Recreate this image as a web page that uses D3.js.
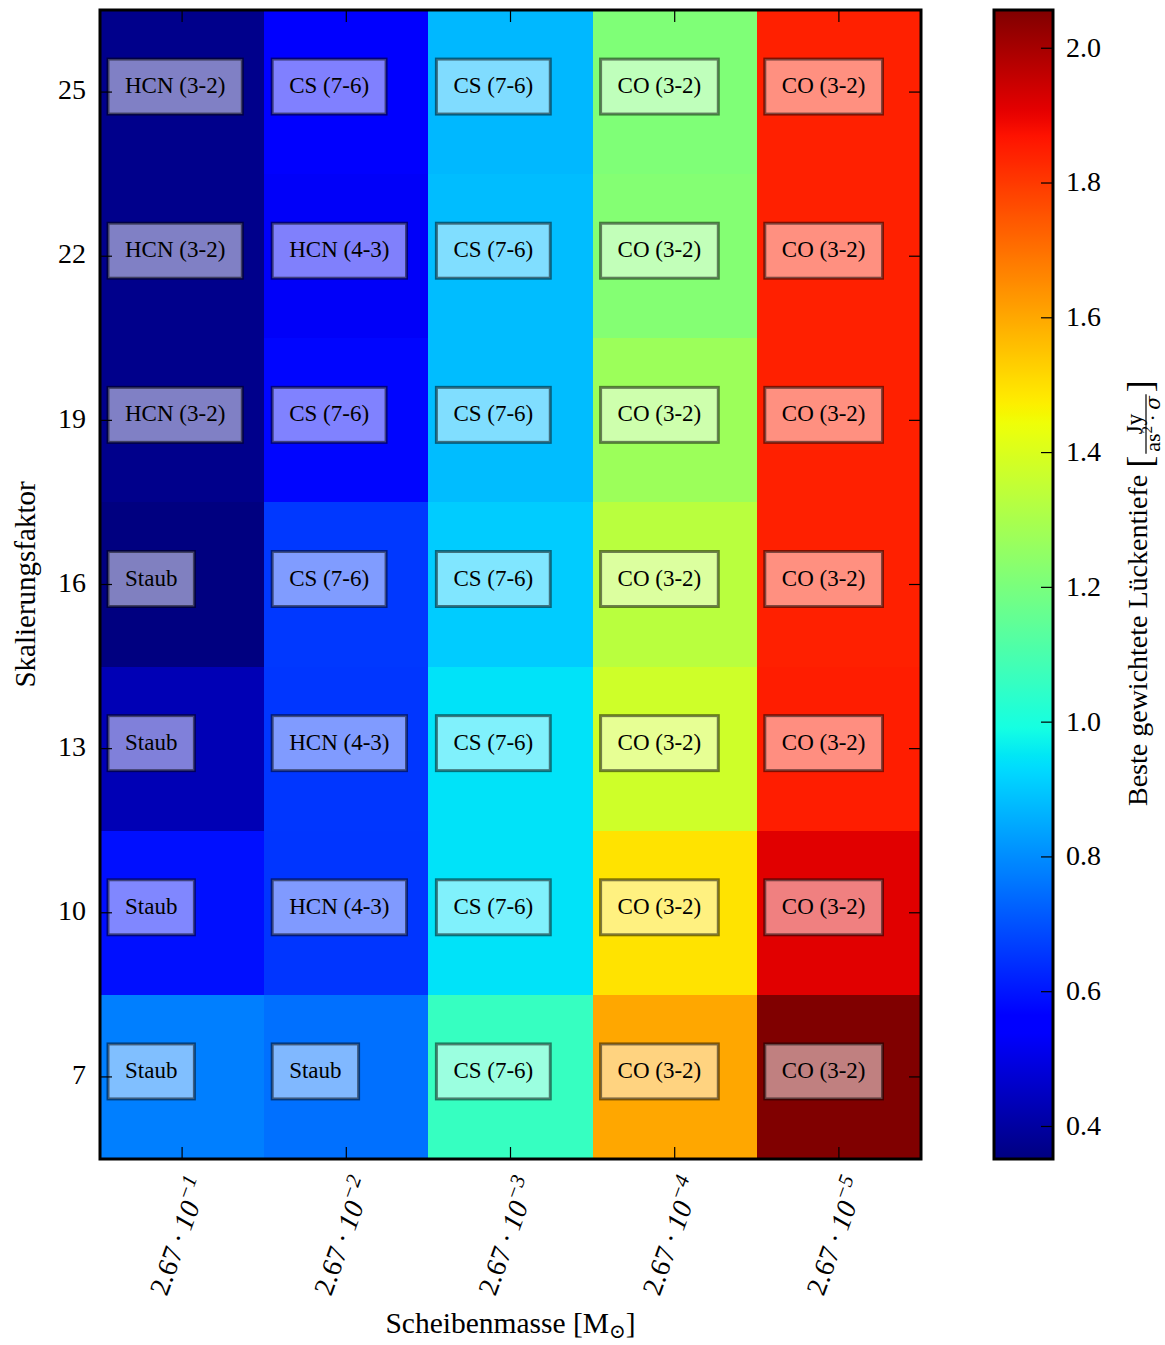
<!DOCTYPE html>
<html>
<head>
<meta charset="utf-8">
<script src="https://cdn.jsdelivr.net/npm/d3@7"></script>
<style>
  html, body { margin: 0; padding: 0; background: #fff; }
  svg { display: block; }
  text { font-family: "Liberation Serif", "DejaVu Serif", serif; fill: #000; }
</style>
</head>
<body>
<svg id="chart" width="1165" height="1345"></svg>
<script>
// ---------------- data ----------------
const scaleFactors = [25, 22, 19, 16, 13, 10, 7];
const massMantissa = "2.67";
const massExponents = [-1, -2, -3, -4, -5];
const massKeys = ["m1", "m2", "m3", "m4", "m5"];

// best weighted gap depth, one array per disc mass, ordered like scaleFactors
const depth_m1 = [0.368, 0.368, 0.368, 0.351, 0.43, 0.59, 0.777];
const depth_m2 = [0.539, 0.530, 0.573, 0.658, 0.655, 0.652, 0.752];
const depth_m3 = [0.871, 0.880, 0.880, 0.905, 0.944, 0.944, 1.059];
const depth_m4 = [1.212, 1.221, 1.272, 1.331, 1.374, 1.493, 1.601];
const depth_m5 = [1.845, 1.845, 1.845, 1.845, 1.851, 1.913, 2.056];

// best tracer per cell
const line_m1 = ["HCN (3-2)", "HCN (3-2)", "HCN (3-2)", "Staub", "Staub", "Staub", "Staub"];
const line_m2 = ["CS (7-6)", "HCN (4-3)", "CS (7-6)", "CS (7-6)", "HCN (4-3)", "HCN (4-3)", "Staub"];
const line_m3 = ["CS (7-6)", "CS (7-6)", "CS (7-6)", "CS (7-6)", "CS (7-6)", "CS (7-6)", "CS (7-6)"];
const line_m4 = ["CO (3-2)", "CO (3-2)", "CO (3-2)", "CO (3-2)", "CO (3-2)", "CO (3-2)", "CO (3-2)"];
const line_m5 = ["CO (3-2)", "CO (3-2)", "CO (3-2)", "CO (3-2)", "CO (3-2)", "CO (3-2)", "CO (3-2)"];

const colorbarTicks = [0.4, 0.6, 0.8, 1.0, 1.2, 1.4, 1.6, 1.8, 2.0];

// ---------------- build cell table ----------------
const depths = [depth_m1, depth_m2, depth_m3, depth_m4, depth_m5];
const lines = [line_m1, line_m2, line_m3, line_m4, line_m5];
const cells = [];
massKeys.forEach((k, ci) => {
  scaleFactors.forEach((s, ri) => {
    cells.push({ mass: k, scale: s, value: depths[ci][ri], label: lines[ci][ri] });
  });
});

// ---------------- jet colormap ----------------
const jr = d3.scaleLinear().domain([0, 0.35, 0.66, 0.89, 1]).range([0, 0, 1, 1, 0.5]).clamp(true);
const jg = d3.scaleLinear().domain([0, 0.125, 0.375, 0.64, 0.91, 1]).range([0, 0, 1, 1, 0, 0]).clamp(true);
const jb = d3.scaleLinear().domain([0, 0.11, 0.34, 0.65, 1]).range([0.5, 1, 1, 0, 0]).clamp(true);
function jet(t) {
  return d3.rgb(Math.round(jr(t) * 255), Math.round(jg(t) * 255), Math.round(jb(t) * 255)).toString();
}
const allVals = cells.map(d => d.value);
const vmin = d3.min(allVals), vmax = d3.max(allVals);
const norm = d3.scaleLinear().domain([vmin, vmax]).range([0, 1]).clamp(true);
const color = v => jet(norm(v));

// ---------------- layout ----------------
const svg = d3.select("#chart");
const P = { left: 100, right: 921, top: 10, bottom: 1159 };
const CB = { left: 994, right: 1053 };

const x = d3.scaleBand().domain(massKeys).range([P.left, P.right]).padding(0);
const y = d3.scaleBand().domain(scaleFactors).range([P.top, P.bottom]).padding(0);

// cells
svg.append("g").selectAll("rect").data(cells).join("rect")
  .attr("x", d => x(d.mass))
  .attr("y", d => y(d.scale))
  .attr("width", x.bandwidth() + 0.5)
  .attr("height", y.bandwidth() + 0.5)
  .attr("fill", d => color(d.value))
  .attr("shape-rendering", "crispEdges");

// labels with boxes
const lab = svg.append("g").selectAll("g").data(cells).join("g");
lab.each(function(d) {
  const g = d3.select(this);
  const tx = x(d.mass) + 25;
  const ty = y(d.scale) + y.bandwidth() / 2 + 1;
  const rect = g.append("rect");
  const t = g.append("text").attr("x", tx).attr("y", ty).attr("font-size", 23).text(d.label);
  const w = t.node().getComputedTextLength();
  rect.attr("x", tx - 17).attr("y", ty - 34).attr("width", w + 34).attr("height", 55)
    .attr("fill", "#fff").attr("fill-opacity", 0.5)
    .attr("stroke", "#000").attr("stroke-opacity", 0.5).attr("stroke-width", 3);
});

// ticks (inward) on all four sides
const tickLen = 12;
const axB = svg.append("g").attr("transform", `translate(0,${P.bottom})`)
  .call(d3.axisBottom(x).tickSize(-tickLen).tickFormat(""));
const axT = svg.append("g").attr("transform", `translate(0,${P.top})`)
  .call(d3.axisTop(x).tickSize(-tickLen).tickFormat(""));
const axL = svg.append("g").attr("transform", `translate(${P.left},0)`)
  .call(d3.axisLeft(y).tickSize(-tickLen).tickPadding(14));
const axR = svg.append("g").attr("transform", `translate(${P.right},0)`)
  .call(d3.axisRight(y).tickSize(-tickLen).tickFormat(""));
[axB, axT, axL, axR].forEach(a => {
  a.select(".domain").remove();
  a.selectAll(".tick line").attr("stroke", "#000").attr("stroke-width", 1.2);
});
axL.selectAll(".tick text")
  .attr("font-family", '"Liberation Serif", serif')
  .attr("font-size", 28).attr("fill", "#000").attr("dy", "0.26em");

// rotated x tick labels (2.67·10^-n)
const fsX = 28;
massKeys.forEach((k, i) => {
  const t = svg.append("text").attr("font-size", fsX);
  t.append("tspan").text(massMantissa);
  t.append("tspan").text("\u2009\u00B7\u2009");
  t.append("tspan").attr("font-style", "italic").text("10");
  t.append("tspan").attr("font-style", "italic").attr("font-size", 21).attr("dy", -12)
    .text("\u2212" + Math.abs(massExponents[i]));
  const L = t.node().getComputedTextLength();
  const A = 0.95 * fsX, D = 0.22 * fsX;
  const c = 0.342, s = 0.940;
  const cx = x(k) + x.bandwidth() / 2 - 4;
  const ax = cx - (c * L + s * (D - A)) / 2;
  const ay = P.bottom + 14 + s * L + c * A;
  t.attr("transform", `translate(${ax},${ay}) rotate(-70)`);
});

// frame
svg.append("rect").attr("x", P.left).attr("y", P.top)
  .attr("width", P.right - P.left).attr("height", P.bottom - P.top)
  .attr("fill", "none").attr("stroke", "#000").attr("stroke-width", 3);

// axis titles
const xt = svg.append("text").attr("x", (P.left + P.right) / 2).attr("y", 1333)
  .attr("text-anchor", "middle").attr("font-size", 29.5);
xt.append("tspan").text("Scheibenmasse [M");
xt.append("tspan").attr("font-size", 20).attr("dy", 5).attr("font-family", '"DejaVu Serif", serif').text("\u2299");
xt.append("tspan").attr("dy", -5).text("]");

svg.append("text").attr("transform", `translate(35,${(P.top + P.bottom) / 2}) rotate(-90)`)
  .attr("text-anchor", "middle").attr("font-size", 29).text("Skalierungsfaktor");

// ---------------- colorbar ----------------
const cbY = d3.scaleLinear().domain([vmin, vmax]).range([P.bottom, P.top]);
const defs = svg.append("defs");
const grad = defs.append("linearGradient").attr("id", "jetgrad")
  .attr("x1", 0).attr("y1", 1).attr("x2", 0).attr("y2", 0);
d3.range(0, 1.0001, 1 / 128).forEach(t => {
  grad.append("stop").attr("offset", t).attr("stop-color", jet(t));
});
svg.append("rect").attr("x", CB.left).attr("y", P.top)
  .attr("width", CB.right - CB.left).attr("height", P.bottom - P.top)
  .attr("fill", "url(#jetgrad)");
const cbAx = svg.append("g").attr("transform", `translate(${CB.right},0)`)
  .call(d3.axisRight(cbY).tickValues(colorbarTicks).tickSize(-tickLen).tickPadding(13)
    .tickFormat(d3.format(".1f")));
cbAx.select(".domain").remove();
cbAx.selectAll(".tick line").attr("stroke", "#000").attr("stroke-width", 1.2);
cbAx.selectAll(".tick text")
  .attr("font-family", '"Liberation Serif", serif')
  .attr("font-size", 28).attr("fill", "#000").attr("dy", "0.30em");
svg.append("rect").attr("x", CB.left).attr("y", P.top)
  .attr("width", CB.right - CB.left).attr("height", P.bottom - P.top)
  .attr("fill", "none").attr("stroke", "#000").attr("stroke-width", 3);

// colorbar title (rotated) with fraction
const cg = svg.append("g").attr("transform", "translate(1147,806) rotate(-90)");
const mt = cg.append("text").attr("x", 0).attr("y", 0).attr("font-size", 28).text("Beste gewichtete Lückentiefe");
const Lm = mt.node().getComputedTextLength();
const lb = cg.append("text").attr("x", Lm + 7).attr("y", 5).attr("font-size", 36).text("[");
const lbW = lb.node().getComputedTextLength();
const fx = Lm + 7 + lbW + 2;
const num = cg.append("text").attr("y", -5).attr("font-size", 23).attr("text-anchor", "middle").text("Jy");
const den = cg.append("text").attr("y", 13).attr("font-size", 22).attr("text-anchor", "middle");
den.append("tspan").text("as");
den.append("tspan").attr("font-size", 15).attr("dy", -8).text("2");
den.append("tspan").attr("dy", 8).text("\u2009\u00B7\u2009");
den.append("tspan").attr("font-style", "italic").attr("font-family", '"DejaVu Serif", serif').attr("font-size", 20).text("\u03C3");
const fw = Math.max(num.node().getComputedTextLength(), den.node().getComputedTextLength()) + 4;
num.attr("x", fx + fw / 2);
den.attr("x", fx + fw / 2);
cg.append("line").attr("x1", fx).attr("x2", fx + fw).attr("y1", -1).attr("y2", -1)
  .attr("stroke", "#000").attr("stroke-width", 1.2);
cg.append("text").attr("x", fx + fw + 2).attr("y", 5).attr("font-size", 36).text("]");
</script>
</body>
</html>
